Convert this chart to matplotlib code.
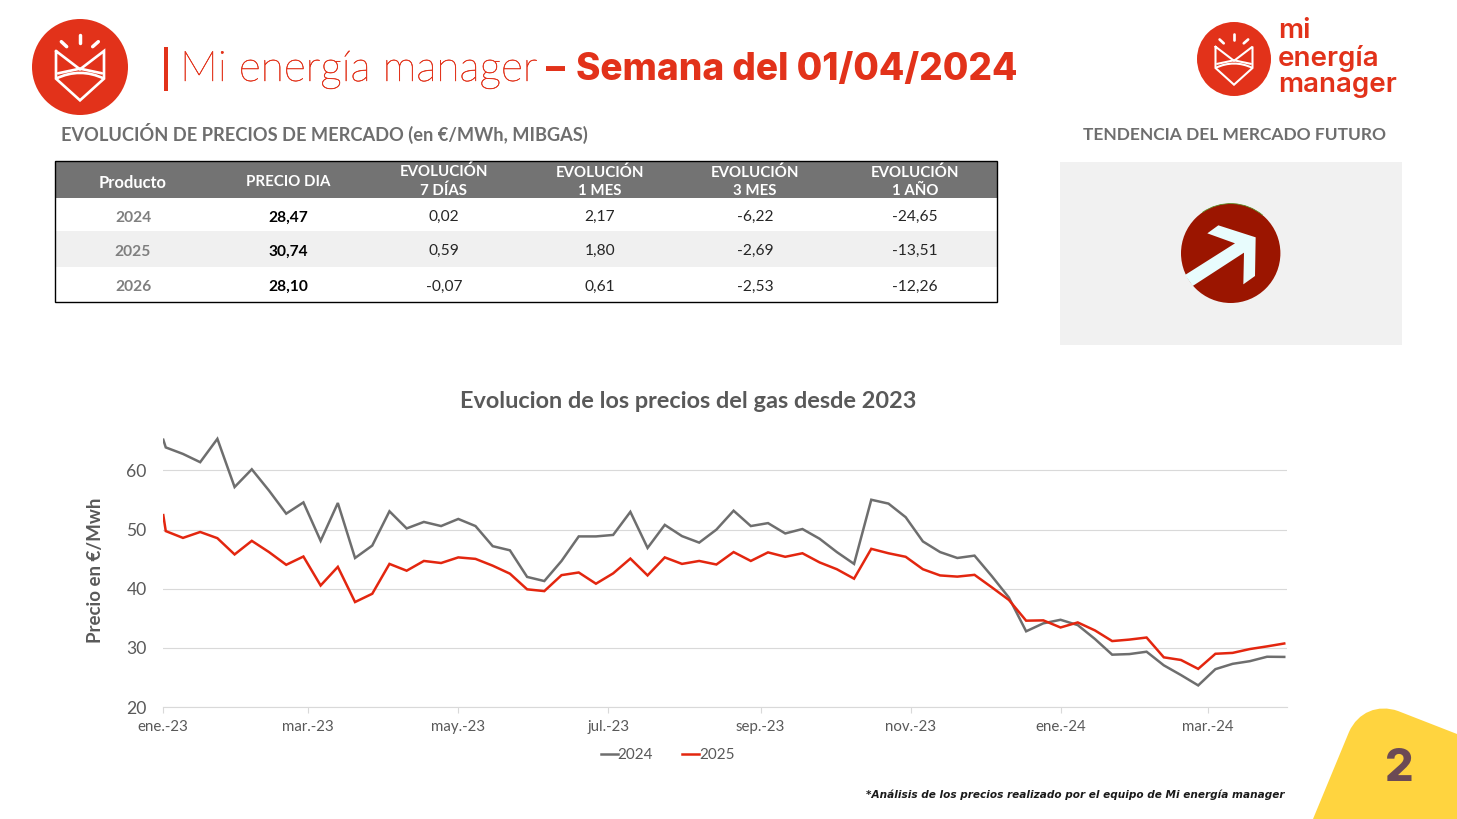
import matplotlib
matplotlib.use("Agg")
import matplotlib.pyplot as plt
import pandas as pd
import matplotlib.patheffects as pe
from matplotlib.patches import Circle, Rectangle, Polygon, PathPatch, Arc
from matplotlib.path import Path

# ---------- data ----------
first_date = ["2023-01-01"]
weekly_dates = pd.date_range("2023-01-02", "2024-04-01", freq="7D")
dates = pd.to_datetime(first_date).append(weekly_dates)

serie_2024 = [65.2, 63.9, 62.8, 61.4, 65.35, 57.2, 60.2, 56.6, 52.7, 54.6, 48.1, 54.5, 45.2, 47.3, 53.1, 50.2,
              51.3, 50.6, 51.8, 50.6, 47.2, 46.5, 42.0, 41.3, 44.7, 48.85, 48.85, 49.1, 53.0, 46.9, 50.8, 48.9,
              47.8, 50.0, 53.2, 50.6, 51.1, 49.35, 50.1, 48.45, 46.2, 44.2, 55.05, 54.4, 52.1, 48.0, 46.2, 45.2,
              45.6, 42.15, 38.5, 32.8, 34.15, 34.75, 33.85, 31.5, 28.85, 28.95, 29.35, 27.05, 25.4, 23.65, 26.4,
              27.3, 27.75, 28.5, 28.47]
serie_2025 = [52.45, 49.75, 48.6, 49.6, 48.55, 45.8, 48.1, 46.2, 44.05, 45.45, 40.55, 43.7, 37.75, 39.15, 44.2, 43.05,
              44.7, 44.35, 45.3, 45.05, 43.9, 42.55, 39.9, 39.6, 42.3, 42.75, 40.85, 42.6, 45.1, 42.25, 45.3, 44.2,
              44.7, 44.1, 46.2, 44.7, 46.15, 45.4, 46.0, 44.45, 43.3, 41.7, 46.75, 46.0, 45.4, 43.3, 42.25, 42.05,
              42.35, 40.25, 38.1, 34.6, 34.65, 33.45, 34.3, 32.95, 31.15, 31.4, 31.75, 28.4, 27.95, 26.45, 29.0,
              29.15, 29.8, 30.25, 30.74]

tick_dates = ["2023-01-01", "2023-03-01", "2023-05-01", "2023-07-01", "2023-09-01", "2023-11-01", "2024-01-01", "2024-03-01"]
tick_labels = ["ene.-23", "mar.-23", "may.-23", "jul.-23", "sep.-23", "nov.-23", "ene.-24", "mar.-24"]
y_ticks = [20, 30, 40, 50, 60]

table_header = ["Producto", "PRECIO DIA", "EVOLUCIÓN\n7 DÍAS", "EVOLUCIÓN\n1 MES", "EVOLUCIÓN\n3 MES", "EVOLUCIÓN\n1 AÑO"]
table_rows = [["2024", "28,47", "0,02", "2,17", "-6,22", "-24,65"],
              ["2025", "30,74", "0,59", "1,80", "-2,69", "-13,51"],
              ["2026", "28,10", "-0,07", "0,61", "-2,53", "-12,26"]]

# ---------- style ----------
W, H = 1457, 819
RED = "#E2321A"
LINE_RED = "#E3260F"
GREY = "#6E6E6E"
TXT = "#595959"
plt.rcParams["font.family"] = ["Lato", "DejaVu Sans"]
px = 0.72  # px -> pt at dpi 100

fig = plt.figure(figsize=(W / 100, H / 100), dpi=100, facecolor="white")
ov = fig.add_axes([0, 0, 1, 1], zorder=0)
ov.set_xlim(0, W)
ov.set_ylim(H, 0)
ov.axis("off")


def logo(cx, cy, r):
    s = r / 144.0
    P = lambda x, y: (cx + (x - 150) * s, cy + (y - 153) * s)
    lw = max(1.2, r * 0.04)
    ov.add_patch(Circle((cx, cy), r, fc=RED, ec="none"))
    kw = dict(color="white", lw=lw, solid_capstyle="round", solid_joinstyle="miter")
    body = [P(78, 105), P(78, 188), P(150, 253), P(222, 188), P(222, 105), P(150, 160), P(78, 105)]
    ov.plot(*zip(*body), **kw)
    ov.plot(*zip(P(84, 172), P(150, 158), P(216, 172)), **kw)
    arc = PathPatch(Path([P(78, 188), P(125, 165), P(175, 165), P(222, 188)],
                         [Path.MOVETO, Path.CURVE4, Path.CURVE4, Path.CURVE4]),
                    fc="none", ec="white", lw=lw)
    ov.add_patch(arc)
    for a, b in [((150, 56), (150, 80)), ((94, 77), (110, 92)), ((205, 77), (188, 92))]:
        ov.plot(*zip(P(*a), P(*b)), color="white", lw=lw * 1.3, solid_capstyle="round")


logo(80, 67, 48)
logo(1234, 59, 37)

# title
ov.add_patch(Rectangle((164, 47), 3.5, 44, fc=RED, ec="none"))
t = ov.text(180, 70, "Mi energía manager", color=RED, fontsize=42.5 * px, fontweight="light", va="center", ha="left")
t.set_path_effects([pe.withStroke(linewidth=0.35, foreground=RED)])
ov.text(546, 70, "–", color=RED, fontsize=38 * px, fontweight="extra bold", va="center", ha="left", family="Inter")
ov.text(576, 70, "Semana del 01/04/2024", color=RED, fontsize=37 * px, fontweight="extra bold", va="center", ha="left",
        family="Inter")

# right logo text
for txt, y in zip(["mi", "energía", "manager"], [31.5, 58.5, 85.5]):
    ov.text(1278, y, txt, color=RED, fontsize=27.8 * px, fontweight="semibold", va="center", ha="left", family="Inter")

# section titles
ov.text(61, 133, "EVOLUCIÓN DE PRECIOS DE MERCADO (en €/MWh, MIBGAS)", color=GREY, fontsize=18.3 * px,
        fontweight="bold", va="center", ha="left")
ov.text(1234.5, 134.5, "TENDENCIA DEL MERCADO FUTURO", color=GREY, fontsize=17.4 * px, fontweight="bold",
        va="center", ha="center")

# table
col_x = [133, 288.5, 444, 600, 755, 915]
row_y = [217.5, 251.5, 287]
ov.add_patch(Rectangle((55, 161), 942, 37, fc="#737373", ec="none"))
ov.add_patch(Rectangle((55, 231), 942, 36, fc="#F0F0F0", ec="none"))
ov.add_patch(Rectangle((55, 161), 942, 141, fc="none", ec="black", lw=1.0, zorder=3))
for i, (x, h) in enumerate(zip(col_x, table_header)):
    size = 16.5 if i == 0 else 15.0
    ov.text(x, 182.5 if i < 2 else 181.5, h, color="white", fontsize=size * px, fontweight="bold", ha="center", va="center",
            linespacing=1.38)
for y, row in zip(row_y, table_rows):
    ov.text(col_x[0], y, row[0], color="#7F7F7F", fontsize=15.5 * px, fontweight="bold", ha="center", va="center")
    ov.text(col_x[1], y, row[1], color="black", fontsize=15.5 * px, fontweight="bold", ha="center", va="center")
    for x, v in zip(col_x[2:], row[2:]):
        ov.text(x, y - 0.5, v, color="#262626", fontsize=15.5 * px, ha="center", va="center")

# trend panel
ov.add_patch(Rectangle((1060, 162), 342, 183, fc="#F1F1F1", ec="none"))
ov.add_patch(Circle((1230.7, 253.3), 49.7, fc="#9B1500", ec="none"))
ov.add_patch(Arc((1230.7, 253.3), 99.4, 99.4, theta1=235, theta2=310, color="#5C8A22", lw=0.6))
arrow = [(405, 825), (555, 730), (472, 700), (505, 676), (617, 712), (615, 828), (580, 853), (582, 758), (428, 858)]
ov.add_patch(Polygon([(1050 + a / 3, b / 3) for a, b in arrow], closed=True, fc="#E8FCFD", ec="none"))

# page corner
corner = Path([(1313, 819), (1349, 732), (1358, 712), (1378, 704), (1398, 711), (1457, 734), (1457, 819), (1313, 819)],
              [Path.MOVETO, Path.LINETO, Path.CURVE4, Path.CURVE4, Path.CURVE4, Path.LINETO, Path.LINETO, Path.CLOSEPOLY])
ov.add_patch(PathPatch(corner, fc="#FFD43F", ec="none"))
ov.text(1399, 769, "2", color="#6B4A55", fontsize=45 * px, fontweight="extra bold", ha="center", va="center", family="Inter")

# chart titles
ov.text(688, 401, "Evolucion de los precios del gas desde 2023", color=TXT, fontsize=23.5 * px, fontweight="bold",
        ha="center", va="center")
ov.text(1285, 795, "*Análisis de los precios realizado por el equipo de Mi energía manager", color="#1A1A1A",
        fontsize=10.5 * px, fontweight="bold", style="italic", ha="right", va="center", family="DejaVu Sans")

# line chart
L, R, T, B = 163.3, 1286.7, 435.0, 707.0
ax = fig.add_axes([L / W, 1 - B / H, (R - L) / W, (B - T) / H], zorder=1)
ax.patch.set_alpha(0)
ax.plot(dates, serie_2024, color=GREY, lw=1.8, label="2024", solid_joinstyle="miter")
ax.plot(dates, serie_2025, color=LINE_RED, lw=1.8, label="2025", solid_joinstyle="miter")
ax.set_xlim(pd.Timestamp("2023-01-01"), pd.Timestamp("2024-04-02"))
ax.set_ylim(20, 66)
ax.set_yticks(y_ticks)
ax.set_xticks(pd.to_datetime(tick_dates))
ax.set_xticklabels(tick_labels)
ax.grid(axis="y", color="#D9D9D9", lw=0.8)
ax.set_axisbelow(True)
for s in ["top", "right", "left"]:
    ax.spines[s].set_visible(False)
ax.spines["bottom"].set_color("#D9D9D9")
ax.spines["bottom"].set_linewidth(0.8)
ax.tick_params(axis="y", length=0, labelsize=17.5 * px, labelcolor=TXT, pad=12)
ax.tick_params(axis="x", length=4, width=0.8, color="#D9D9D9", labelsize=15 * px, labelcolor=TXT, pad=5.5)
ov.text(95, 570, "Precio en €/Mwh", color=TXT, fontsize=18.8 * px, fontweight="bold", rotation=90, ha="center", va="center")
ax.legend(loc="center", bbox_to_anchor=((667.5 - L) / (R - L), (B - 755) / (B - T)), ncol=2, frameon=False,
          fontsize=15.2 * px, handlelength=1.12, handletextpad=0.0, columnspacing=1.9, labelcolor=TXT, borderpad=0)

fig.savefig("out.png", dpi=100)
